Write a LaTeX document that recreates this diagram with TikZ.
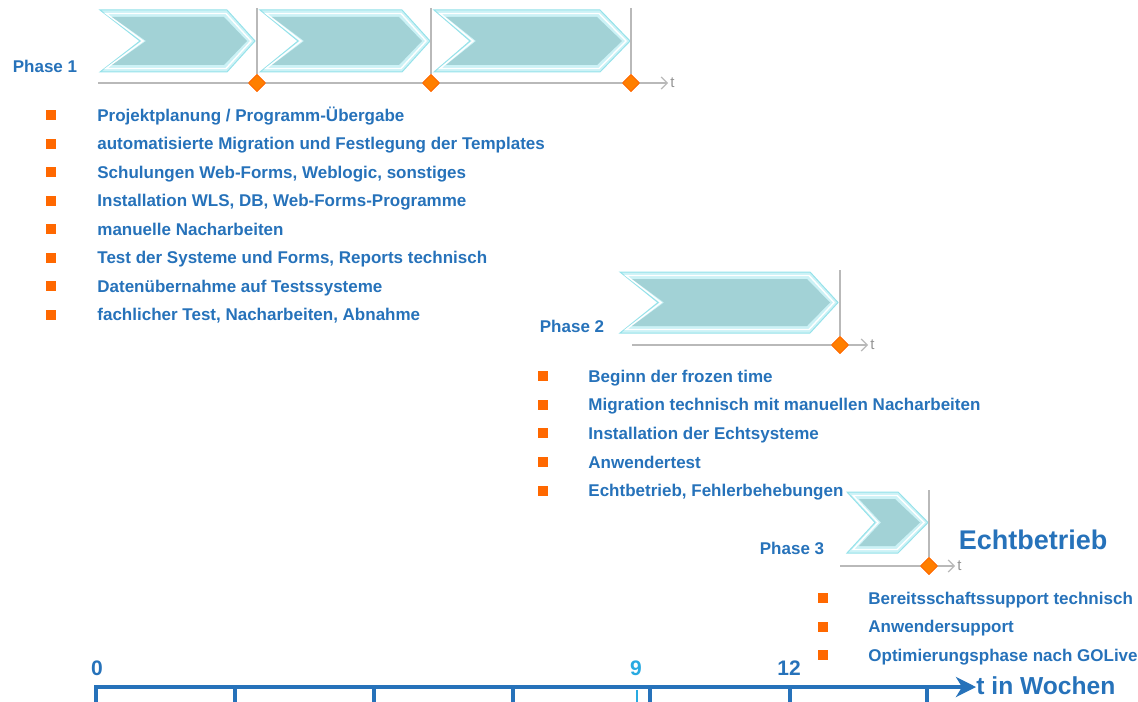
\documentclass[tikz,border=0pt]{standalone}
\usepackage{fontspec}
\setmainfont{Liberation Sans}
\usetikzlibrary{arrows.meta,shapes.geometric}
\definecolor{txtblue}{RGB}{38,114,186}
\definecolor{lightblue}{RGB}{40,170,225}
\definecolor{bulorange}{RGB}{255,104,0}
\definecolor{axgrey}{RGB}{185,185,185}
\definecolor{chevout}{RGB}{204,242,246}
\definecolor{chevedge}{RGB}{150,226,234}
\definecolor{chevin}{RGB}{162,210,214}

\tikzset{
  phaselabel/.style={font=\bfseries\fontsize{8.5}{10}\selectfont, text=txtblue, inner sep=0pt},
  itemtext/.style={font=\bfseries\fontsize{8.5}{10}\selectfont, text=txtblue, anchor=base west, inner sep=0pt},
  bulletsq/.style={fill=bulorange, minimum size=5pt, inner sep=0pt},
  milestone/.style={diamond, fill=bulorange!85!yellow, draw=bulorange, line width=0.3pt, minimum size=8.5pt, inner sep=0pt},
  thinaxis/.style={draw=axgrey, line width=0.6pt, -{Straight Barb[length=3pt,width=6pt]}},
  vline/.style={draw=axgrey, line width=0.6pt},
  tlabel/.style={text=axgrey!80!black, font=\fontsize{7.5}{9}\selectfont, anchor=west, inner sep=1pt},
  ticklabel/.style={font=\bfseries\fontsize{10.5}{12}\selectfont, text=txtblue, inner sep=0pt},
  weekaxis/.style={draw=txtblue, line width=2pt, -{Stealth[length=10pt,width=10pt,inset=3pt]}},
  weektick/.style={draw=txtblue, line width=1.6pt},
}

% chevron: x1, x2, ytop, ybottom, notch depth, tip depth
\newcommand{\phasechev}[6]{%
  \pgfmathsetmacro{\ym}{(#3+#4)/2}
  \filldraw[fill=chevout, draw=chevedge, line width=0.5pt]
    (#1,#3) -- ({#2-#6},#3) -- (#2,\ym) -- ({#2-#6},#4) -- (#1,#4) -- ({#1+#5},\ym) -- cycle;
  \draw[white, line width=0.7pt]
    ({#1+6},{#3+3.5}) -- ({#2-#6-1},{#3+3.5}) -- ({#2-4},\ym) -- ({#2-#6-1},{#4-3.5}) -- ({#1+6},{#4-3.5}) -- ({#1+#5+3},\ym) -- cycle;
  \fill[chevin]
    ({#1+12},{#3+7}) -- ({#2-#6-3},{#3+7}) -- ({#2-8},\ym) -- ({#2-#6-3},{#4-7}) -- ({#1+12},{#4-7}) -- ({#1+#5+6},\ym) -- cycle;
}

\begin{document}
\begin{tikzpicture}[x=0.5pt, y=-0.5pt]
  \useasboundingbox (0,0) rectangle (1138,701);

  % Phase 1
  \phasechev{100}{255}{10}{72}{40}{28}
  \phasechev{260}{430}{10}{72}{38}{28}
  \phasechev{434}{630}{10}{72}{36}{30}
  \node[phaselabel] (ph1) at (45,66) {Phase 1};
  \coordinate (ax1s) at (98,83);
  \coordinate (ax1e) at (668,83);
  \node[milestone] (m1a) at (257,83) {};
  \node[milestone] (m1b) at (431,83) {};
  \node[milestone] (m1c) at (631,83) {};
  \coordinate (v1a) at (257,8);
  \coordinate (v1b) at (431,8);
  \coordinate (v1c) at (631,8);
  \draw[vline] (v1a) -- (m1a);
  \draw[vline] (v1b) -- (m1b);
  \draw[vline] (v1c) -- (m1c);
  \draw[thinaxis] (ax1s) -- (ax1e);
  \node[milestone] at (m1a) {};
  \node[milestone] at (m1b) {};
  \node[milestone] at (m1c) {};
  \node[tlabel] (t1) at (ax1e) {t};

  \foreach \txt [count=\i] in {%
      {Projektplanung / Programm-Übergabe},
      {automatisierte Migration und Festlegung der Templates},
      {Schulungen Web-Forms, Weblogic, sonstiges},
      {Installation WLS, DB, Web-Forms-Programme},
      {manuelle Nacharbeiten},
      {Test der Systeme und Forms, Reports technisch},
      {Datenübernahme auf Testssysteme},
      {fachlicher Test, Nacharbeiten, Abnahme}} {
    \node[bulletsq] (b1-\i) at (51,{115+28.5*(\i-1)}) {};
    \node[itemtext] (p1-\i) at (97,{121+28.5*(\i-1)}) {\txt};
  }

  % Phase 2
  \phasechev{620}{838}{272}{333}{38}{28}
  \node[phaselabel] (ph2) at (572,326) {Phase 2};
  \coordinate (ax2s) at (632,345);
  \coordinate (ax2e) at (868,345);
  \coordinate (v2) at (840,270);
  \node[milestone] (m2) at (840,345) {};
  \draw[vline] (v2) -- (m2);
  \draw[thinaxis] (ax2s) -- (ax2e);
  \node[milestone] at (m2) {};
  \node[tlabel] (t2) at (ax2e) {t};

  \foreach \txt [count=\i] in {%
      {Beginn der frozen time},
      {Migration technisch mit manuellen Nacharbeiten},
      {Installation der Echtsysteme},
      {Anwendertest},
      {Echtbetrieb, Fehlerbehebungen}} {
    \node[bulletsq] (b2-\i) at (543,{376+28.7*(\i-1)}) {};
    \node[itemtext] (p2-\i) at (588,{382+28.7*(\i-1)}) {\txt};
  }

  % Phase 3
  \phasechev{847}{928}{492}{553}{28}{30}
  \node[phaselabel] (ph3) at (792,548) {Phase 3};
  \node[font=\bfseries\fontsize{13.5}{16}\selectfont, text=txtblue, inner sep=0pt] (echt) at (1033,540) {Echtbetrieb};
  \coordinate (ax3s) at (840,566);
  \coordinate (ax3e) at (955,566);
  \coordinate (v3) at (929,490);
  \node[milestone] (m3) at (929,566) {};
  \draw[vline] (v3) -- (m3);
  \draw[thinaxis] (ax3s) -- (ax3e);
  \node[milestone] at (m3) {};
  \node[tlabel] (t3) at (ax3e) {t};

  \foreach \txt [count=\i] in {%
      {Bereitsschaftssupport technisch},
      {Anwendersupport},
      {Optimierungsphase nach GOLive}} {
    \node[bulletsq] (b3-\i) at (823,{598+28.5*(\i-1)}) {};
    \node[itemtext] (p3-\i) at (868,{604+28.5*(\i-1)}) {\txt};
  }

  % time axis in weeks
  \foreach \x in {96,235,374,513,650,790,927}
    \draw[weektick] (\x,687) -- (\x,706);
  \draw[draw=lightblue, line width=1.3pt] (637,690) -- (637,706);
  \coordinate (wks) at (94,687);
  \coordinate (wke) at (976,687);
  \draw[weekaxis] (wks) -- (wke);
  \node[ticklabel] (w0) at (97,668) {0};
  \node[ticklabel, text=lightblue] (w9) at (636,668) {9};
  \node[ticklabel] (w12) at (789,668) {12};
  \node[font=\bfseries\fontsize{12.3}{15}\selectfont, text=txtblue, anchor=west, inner sep=0pt] (wlab) at (976,686) {t in Wochen};
\end{tikzpicture}
\end{document}
